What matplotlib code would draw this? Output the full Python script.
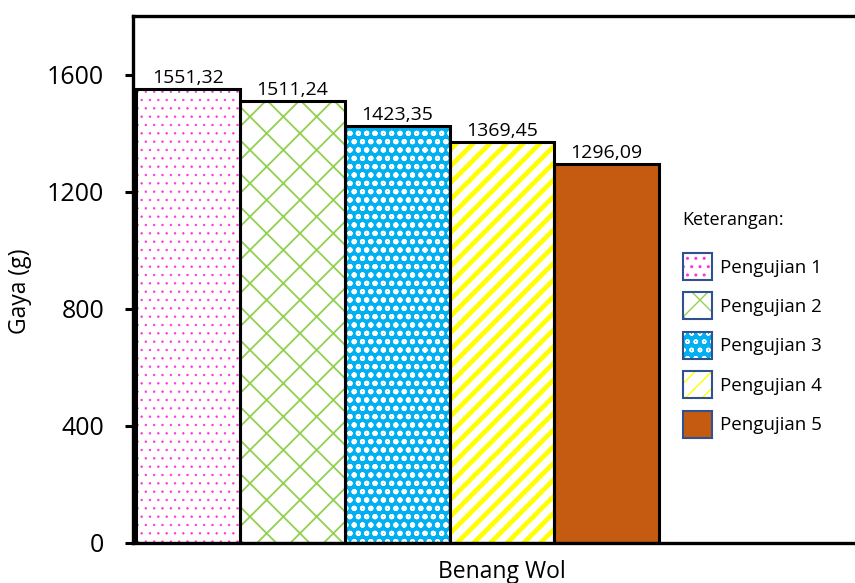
import matplotlib
matplotlib.use("Agg")
import matplotlib.pyplot as plt
from matplotlib.patches import Patch

plt.rcParams['font.family'] = ['Open Sans', 'DejaVu Sans']

# ---- data ----
category = "Benang Wol"
series = ["Pengujian 1", "Pengujian 2", "Pengujian 3", "Pengujian 4", "Pengujian 5"]
values = [1551.32, 1511.24, 1423.35, 1369.45, 1296.09]
value_labels = ["1551,32", "1511,24", "1423,35", "1369,45", "1296,09"]
yticks = [0, 400, 800, 1200, 1600]

# ---- styles ----
faces = ['white', 'white', '#00B0F0', 'white', '#C55A11']
hatch_colors = ['#FF33DD', '#92D050', 'white', '#FFFF00', '#C55A11']
hatches = ['..', 'x', 'oo', '//', None]
hatch_lws = [0.5, 1.3, 1.4, 3.4, 1.0]

W, H = 855, 583
fig = plt.figure(figsize=(W / 100, H / 100), dpi=100)
ax_left, ax_right, ax_top, ax_bot = 133, 871, 16, 543
ax = fig.add_axes([ax_left / W, 1 - ax_bot / H, (ax_right - ax_left) / W, (ax_bot - ax_top) / H])

bar_px = 104.7
x0 = 0.024
xs = [x0 + 0.5 + i for i in range(len(values))]

handles = []
for i, (x, v) in enumerate(zip(xs, values)):
    hb = ax.bar(x, v, width=1.0, color=faces[i], edgecolor=hatch_colors[i],
                hatch=hatches[i], linewidth=0, zorder=2)[0]
    if hasattr(hb, 'set_hatch_linewidth'):
        hb.set_hatch_linewidth(hatch_lws[i])
    ax.bar(x, v, width=1.0, fill=False, edgecolor='black', linewidth=2.2, zorder=3)
    ax.annotate(value_labels[i], (x, v), xytext=(0, 4.2), textcoords='offset points',
                ha='center', va='baseline', fontsize=14, color='black')
    hp = Patch(facecolor=faces[i], edgecolor=hatch_colors[i], hatch=hatches[i], linewidth=0)
    if hasattr(hp, 'set_hatch_linewidth'):
        hp.set_hatch_linewidth(hatch_lws[i])
    he = Patch(facecolor='none', edgecolor='#2F528F', linewidth=1.5)
    handles.append((hp, he))

ax.set_xlim(0, (ax_right - ax_left) / bar_px)
ax.set_ylim(0, 1800)
ax.set_yticks(yticks)
ax.set_yticklabels([str(t) for t in yticks])
ax.set_xticks([])
ax.tick_params(axis='y', length=5.8, width=2.2, pad=15, labelsize=18, direction='out')
for s in ['left', 'bottom', 'top']:
    ax.spines[s].set_linewidth(2.4)
ax.spines['right'].set_visible(False)

ax.set_ylabel("Gaya (g)", fontsize=16.5)
ax.yaxis.set_label_coords((32 - ax_left) / (ax_right - ax_left), (ax_bot - 291) / (ax_bot - ax_top))
ax.set_xlabel(category, fontsize=16.5)
ax.xaxis.set_label_coords((502 - ax_left) / (ax_right - ax_left), (ax_bot - 578) / (ax_bot - ax_top))
ax.xaxis.label.set_verticalalignment('baseline')

fig.text(682 / W, 1 - 225 / H, "Keterangan:", fontsize=13, ha='left', va='baseline')
fs = 13.5
fs_px = fs * 100 / 72
hh_pt = 27 / fs_px
handleheight = (hh_pt - 0.245) / 0.65
leg = fig.legend(handles, series, loc='upper left',
                 bbox_to_anchor=(683 / W, 1 - 253 / H), bbox_transform=fig.transFigure,
                 frameon=False, fontsize=fs, borderpad=0, borderaxespad=0,
                 handlelength=29 / fs_px, handleheight=handleheight,
                 handletextpad=0.45, labelspacing=0.66)

fig.savefig("out.png", dpi=100)
